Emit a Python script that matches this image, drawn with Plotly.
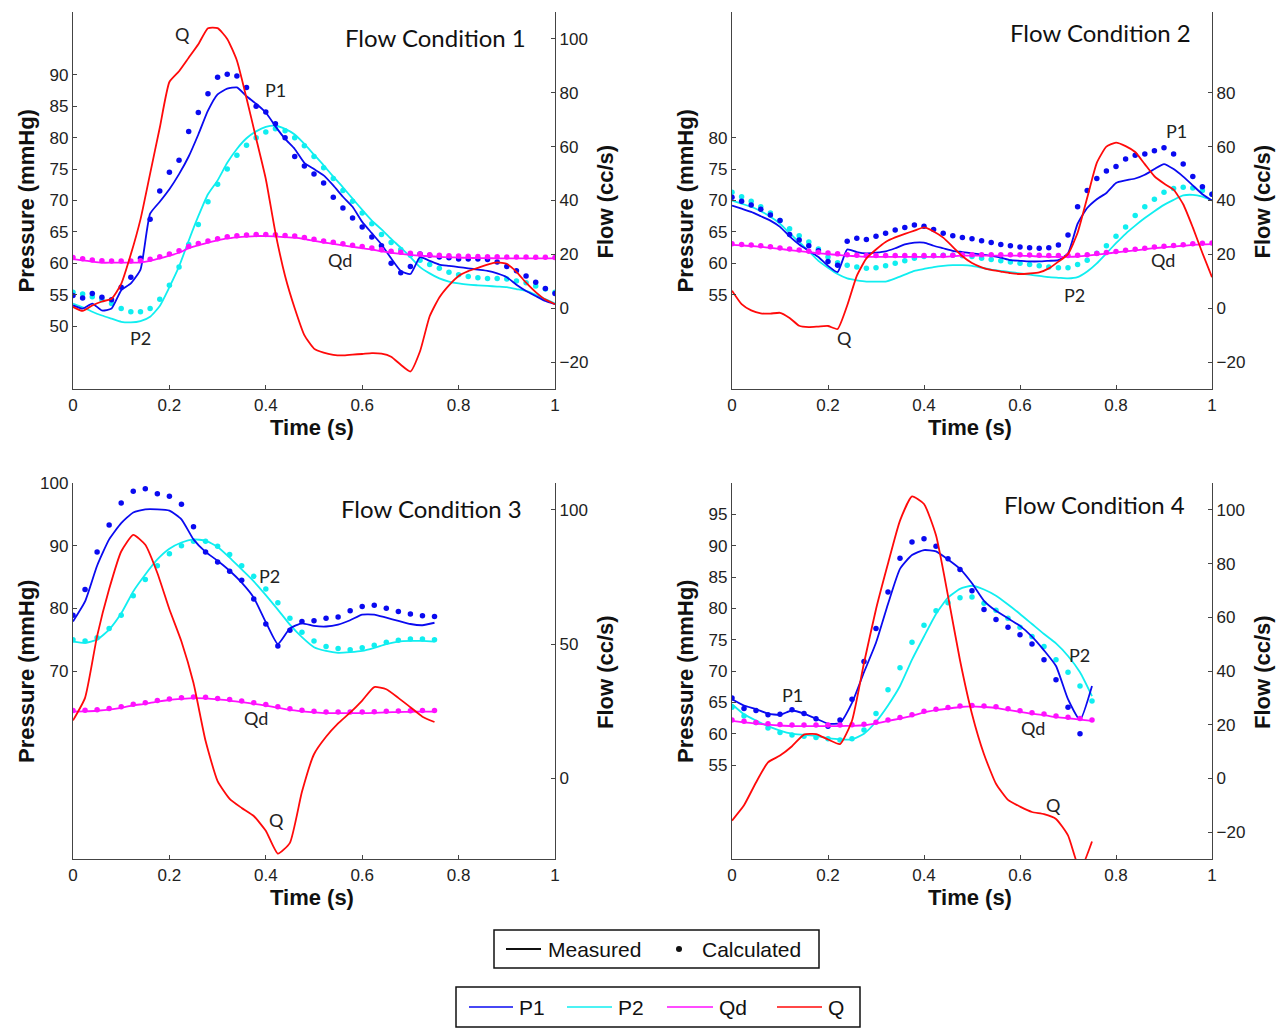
import numpy as np
import plotly.graph_objects as go

# ---------------- data ----------------
t_full = np.linspace(0, 1, 51)      # panels 1, 2 (s)
t_short = np.linspace(0, 0.75, 31)  # panels 3, 4 (s)

# Flow condition 1
p1_meas_1 = [53.3,52.8,53.6,52.5,52.8,55.7,56.8,59.0,67.9,69.8,71.8,74.2,77.0,80.5,84.3,86.9,87.8,88.0,86.6,85.4,84.0,81.8,79.8,78.2,76.0,75.0,74.0,72.4,70.6,69.0,66.6,64.8,63.0,60.8,58.8,58.3,61.0,60.4,59.8,59.6,59.4,59.2,59.0,58.8,58.4,57.8,56.6,55.6,54.8,54.0,53.5]
p1_calc_1 = [54.9,54.5,55.2,54.6,54.2,56.2,57.8,60.8,67.0,71.5,74.5,76.4,81.0,84.0,87.0,89.6,90.1,89.8,88.0,85.0,84.1,82.2,80.0,77.0,75.5,74.2,72.8,70.5,68.8,67.2,65.8,64.2,62.8,60.0,58.5,59.5,61.5,61.3,61.0,60.9,60.7,60.7,60.7,60.6,60.2,59.5,58.8,58.0,57.0,56.0,55.2]
p2_meas_1 = [53.6,53.0,52.3,51.7,51.2,50.7,50.6,50.8,51.5,53.2,56.2,59.5,63.6,67.5,71.0,73.2,76.0,78.2,79.9,81.0,81.7,81.9,81.4,80.5,79.0,77.3,75.6,73.8,72.1,70.3,68.5,66.8,65.4,63.9,62.5,61.0,59.4,58.4,57.6,57.1,56.8,56.6,56.5,56.4,56.3,56.2,55.9,55.6,55.0,54.3,53.6]
p2_calc_1 = [55.4,55.1,54.7,54.2,53.6,52.8,52.3,52.3,52.8,54.3,56.5,59.4,63.0,66.2,69.8,72.6,75.0,77.2,78.8,80.0,80.9,81.4,81.1,80.0,78.7,77.0,75.2,73.5,71.6,69.9,68.0,66.3,64.6,63.3,62.2,61.3,60.5,59.8,59.2,58.6,58.2,57.9,57.7,57.6,57.6,57.5,57.2,56.9,56.4,55.9,55.4]
qd_meas_1 = [18.2,17.8,17.3,16.9,16.9,16.9,16.9,17.0,17.6,18.5,19.5,20.6,22.3,23.4,24.4,25.2,25.9,26.3,26.6,26.8,26.8,26.7,26.4,26.2,25.7,25.0,24.4,23.9,23.3,22.8,22.3,21.8,21.1,20.6,20.2,19.8,19.5,19.3,19.1,18.9,18.8,18.7,18.6,18.6,18.5,18.5,18.5,18.5,18.5,18.5,18.5]
qd_calc_1 = [18.8,18.4,17.9,17.6,17.5,17.5,17.5,17.6,18.2,19.1,20.1,21.3,22.9,24.0,25.0,25.8,26.5,26.9,27.2,27.4,27.4,27.3,27.0,26.8,26.3,25.6,25.0,24.5,23.9,23.4,22.9,22.4,21.7,21.2,20.8,20.4,20.1,19.9,19.7,19.5,19.4,19.3,19.2,19.1,19.1,19.0,19.0,19.0,18.9,18.9,18.8]
q_meas_1 = [0.5,-1.0,1.0,2.5,3.5,9.0,20.0,33.0,50.0,67.0,84.0,88.0,93.0,98.0,104.0,104.0,100.0,92.0,78.0,63.0,48.0,28.0,12.0,0.0,-10.0,-15.0,-16.5,-17.3,-17.5,-17.2,-17.0,-16.7,-16.9,-18.0,-21.0,-23.5,-16.0,-3.0,4.0,8.5,12.0,13.8,15.0,16.2,17.0,16.5,13.5,9.5,6.0,3.2,1.5]

# Flow condition 2
p1_meas_2 = [69.2,68.7,68.2,67.5,66.8,65.8,64.3,63.0,62.0,61.0,59.6,58.6,62.2,61.8,61.6,61.7,61.9,62.4,63.0,63.3,63.3,62.8,62.4,62.0,61.8,61.6,61.4,61.2,60.9,60.5,60.4,60.3,60.3,60.4,60.5,61.6,66.3,68.8,70.2,71.2,72.8,73.2,73.5,74.1,75.0,75.8,75.0,73.8,72.4,71.0,70.0]
p1_calc_2 = [70.5,69.9,69.3,68.6,67.7,66.8,64.6,63.7,62.8,62.0,60.3,59.7,63.5,64.0,63.8,64.3,64.8,65.3,65.7,66.1,65.9,65.4,64.8,64.4,64.1,63.9,63.6,63.3,63.0,62.8,62.6,62.5,62.4,62.5,62.9,64.5,69.0,71.6,73.5,74.7,75.4,76.6,77.2,77.4,77.9,78.4,77.4,75.8,73.8,72.2,71.0]
p2_meas_2 = [70.0,69.5,69.0,68.3,67.4,66.3,64.8,63.4,61.9,60.4,59.3,58.3,57.6,57.3,57.1,57.1,57.1,57.6,58.2,58.8,59.1,59.4,59.6,59.7,59.7,59.6,59.3,59.0,58.8,58.6,58.4,58.2,58.0,57.8,57.7,57.6,57.8,58.7,60.0,61.6,63.2,64.7,66.0,67.2,68.3,69.3,70.1,70.8,70.9,70.6,70.0]
p2_calc_2 = [71.3,70.6,69.9,69.0,68.0,66.8,65.5,64.4,63.4,62.3,61.0,60.1,59.7,59.4,59.2,59.3,59.6,60.0,60.4,60.8,61.1,61.2,61.3,61.3,61.2,61.1,60.8,60.6,60.4,60.2,60.0,59.8,59.6,59.4,59.3,59.3,59.8,60.5,61.6,62.8,64.3,65.8,67.6,69.0,70.2,71.3,71.9,72.1,72.0,71.6,71.0]
qd_meas_2 = [23.5,23.3,23.1,22.8,22.4,22.0,21.6,21.2,20.8,20.4,20.1,19.8,19.5,19.3,19.1,19.1,19.1,19.1,19.1,19.1,19.1,19.1,19.1,19.3,19.5,19.5,19.5,19.5,19.5,19.5,19.5,19.4,19.2,19.1,19.1,19.1,19.2,19.5,19.9,20.3,20.7,21.1,21.5,21.9,22.3,22.6,22.9,23.2,23.5,23.7,23.8]
qd_calc_2 = [23.9,23.7,23.5,23.2,22.8,22.4,22.0,21.6,21.2,20.8,20.5,20.2,19.9,19.7,19.6,19.6,19.6,19.6,19.6,19.6,19.6,19.6,19.6,19.7,19.9,19.9,19.9,19.9,19.9,19.9,19.9,19.8,19.7,19.6,19.6,19.6,19.7,19.9,20.3,20.7,21.1,21.5,21.9,22.3,22.7,23.0,23.3,23.6,23.9,24.1,24.2]
q_meas_2 = [6.5,1.5,-0.8,-1.9,-2.0,-1.7,-3.6,-6.5,-7.0,-6.8,-6.6,-7.7,1.0,12.0,18.5,21.8,24.6,26.3,27.6,28.8,30.0,28.5,26.2,22.8,19.3,16.8,15.2,14.2,13.6,13.0,12.7,12.9,13.3,14.8,17.3,20.1,28.0,41.0,54.0,60.0,61.5,60.2,58.0,53.5,49.0,46.3,44.0,38.6,30.0,20.5,11.5]

# Flow condition 3
p1_meas_3 = [77.9,81.1,86.8,91.0,93.6,95.3,95.8,95.8,95.6,94.2,91.0,89.0,87.6,86.0,84.1,81.7,77.8,74.3,76.8,77.6,77.2,77.1,77.4,78.1,79.0,79.0,78.5,78.0,77.5,77.3,77.7]
p1_calc_3 = [78.9,83.0,89.0,93.3,96.8,98.7,99.1,98.3,97.9,96.6,93.0,89.0,87.4,85.9,84.5,81.5,77.5,74.0,76.5,77.9,78.0,78.4,78.6,79.6,80.3,80.5,80.0,79.5,79.1,78.8,78.7]
p2_meas_3 = [74.7,74.5,75.0,76.6,79.2,82.7,85.4,87.8,89.5,90.5,91.0,90.8,89.8,88.1,86.2,84.3,82.1,79.8,77.4,75.4,73.8,73.2,72.9,73.0,73.2,73.7,74.3,74.7,74.8,74.8,74.7]
p2_calc_3 = [75.0,74.8,75.3,76.8,78.9,82.0,84.6,86.8,88.7,90.0,90.7,90.7,89.9,88.6,86.8,85.1,83.1,80.9,78.4,76.2,74.8,73.9,73.6,73.4,73.7,74.1,74.6,74.9,75.1,75.1,75.0]
qd_meas_3 = [24.9,25.0,25.2,25.6,26.3,27.2,27.8,28.6,29.2,29.6,29.9,29.8,29.4,29.0,28.4,27.8,27.1,26.3,25.5,25.0,24.6,24.3,24.3,24.3,24.3,24.4,24.6,24.7,24.8,24.9,24.9]
qd_calc_3 = [25.3,25.4,25.6,26.0,26.7,27.6,28.2,29.0,29.6,30.0,30.3,30.2,29.8,29.4,28.8,28.2,27.5,26.7,25.9,25.4,25.0,24.7,24.7,24.7,24.7,24.8,25.0,25.1,25.2,25.3,25.3]
q_meas_3 = [21.6,30.0,53.0,70.5,84.5,90.7,87.0,76.5,63.0,51.0,35.5,14.0,-1.0,-7.6,-11.0,-14.0,-19.5,-28.0,-24.0,-5.0,9.0,15.5,20.5,24.5,29.0,34.0,33.2,30.0,26.5,23.0,21.0]

# Flow condition 4
p1_meas_4 = [65.5,64.5,63.9,63.2,63.0,63.7,63.2,62.4,61.6,61.7,64.9,69.8,74.5,80.7,86.3,88.5,89.3,89.1,87.8,86.3,84.0,81.2,79.6,78.4,77.2,75.5,73.3,70.8,65.5,62.2,67.6]
p1_calc_4 = [65.7,64.0,63.7,63.0,63.1,63.8,63.2,62.4,61.2,62.2,65.5,71.5,76.8,82.6,88.0,90.6,91.1,89.9,87.9,86.2,82.8,79.8,78.2,77.0,75.8,74.3,71.8,68.6,64.2,60.0,None]
p2_meas_4 = [64.7,63.1,62.1,61.2,60.5,60.0,59.8,59.6,59.3,59.1,59.1,60.0,61.9,64.5,67.6,71.8,75.5,79.1,81.7,83.1,83.6,83.0,82.0,80.6,79.1,77.5,75.9,74.4,72.4,69.8,66.0]
p2_calc_4 = [64.2,62.8,61.8,60.9,60.2,59.8,59.6,59.4,59.2,59.0,59.2,60.6,63.2,67.0,70.5,74.6,77.3,79.6,80.9,81.7,81.8,80.8,79.7,78.4,77.0,75.5,73.9,71.8,69.8,67.6,65.2]
qd_meas_4 = [21.4,20.9,20.4,20.0,19.7,19.5,19.5,19.5,19.5,19.5,19.6,19.8,20.5,21.4,22.3,23.3,24.6,25.4,26.0,26.6,26.8,26.6,26.3,25.5,24.8,24.1,23.6,22.8,22.4,21.9,21.4]
qd_calc_4 = [21.8,21.3,20.8,20.4,20.1,19.9,19.9,19.9,19.9,19.9,20.0,20.2,20.9,21.8,22.7,23.7,25.0,25.8,26.4,27.0,27.2,27.0,26.7,25.9,25.2,24.5,24.0,23.2,22.8,22.3,21.8]
q_meas_4 = [-15.7,-10.0,-1.5,6.0,8.5,12.0,16.3,16.5,14.5,12.8,21.5,43.0,63.0,80.0,96.0,105.0,102.2,90.5,68.0,44.0,24.0,9.0,-2.0,-8.0,-10.5,-12.5,-13.3,-15.1,-21.2,-34.0,-23.5]

titles = ["Flow Condition 1", "Flow Condition 2", "Flow Condition 3", "Flow Condition 4"]
x_ticks = [0, 0.2, 0.4, 0.6, 0.8, 1]
x_ticktext = ["0", "0.2", "0.4", "0.6", "0.8", "1"]
p_ticks = [[50,55,60,65,70,75,80,85,90], [55,60,65,70,75,80], [70,80,90,100], [55,60,65,70,75,80,85,90,95]]
q_ticks = [[-20,0,20,40,60,80,100], [-20,0,20,40,60,80], [0,50,100], [-20,0,20,40,60,80,100]]

# curve labels: (text, time, pressure)
curve_labels = [
    [("Q", 0.228, 96.5), ("P1", 0.42, 87.6), ("P2", 0.139, 48.1), ("Qd", 0.554, 60.5)],
    [("P1", 0.927, 81.0), ("Qd", 0.898, 60.5), ("P2", 0.7125, 54.9), ("Q", 0.235, 48.1)],
    [("P1", 0.139, 101.1), ("P2", 0.407, 85.1), ("Qd", 0.38, 62.5), ("Q", 0.423, 46.2)],
    [("P1", 0.127, 66.1), ("P2", 0.723, 72.6), ("Qd", 0.627, 60.9), ("Q", 0.669, 48.6)],
]
title_pos = [(0.753, 96.0), (0.767, 96.8), (0.743, 95.9), (0.756, 96.6)]

panels = [
    dict(t=t_full, p1m=p1_meas_1, p1c=p1_calc_1, p2m=p2_meas_1, p2c=p2_calc_1, qdm=qd_meas_1, qdc=qd_calc_1, q=q_meas_1),
    dict(t=t_full, p1m=p1_meas_2, p1c=p1_calc_2, p2m=p2_meas_2, p2c=p2_calc_2, qdm=qd_meas_2, qdc=qd_calc_2, q=q_meas_2),
    dict(t=t_short, p1m=p1_meas_3, p1c=p1_calc_3, p2m=p2_meas_3, p2c=p2_calc_3, qdm=qd_meas_3, qdc=qd_calc_3, q=q_meas_3),
    dict(t=t_short, p1m=p1_meas_4, p1c=p1_calc_4, p2m=p2_meas_4, p2c=p2_calc_4, qdm=qd_meas_4, qdc=qd_calc_4, q=q_meas_4),
]
for p in panels:
    for k in ("p1m", "p1c", "p2m", "p2c", "qdm", "qdc", "q"):
        assert len(p[k]) == len(p["t"]), (k, len(p[k]))

# ---------------- styling ----------------
W, H = 1286, 1028
PAD = 8  # page body margin of the html page
def fx(px):
    return (px - PAD) / W
def fy(py):
    return 1 - (py - PAD) / H

BLUE = "#0A0AF0"
CYAN = "#10EEF0"
MAG = "#FF10FF"
RED = "#FF0A0A"
AX = "#444444"
TXT = "#222222"
TICKFONT = dict(family="Arial, Liberation Sans, sans-serif", size=17, color=TXT)
TITLEFONT = dict(family="Arial, Liberation Sans, sans-serif", size=22, color="#111111", weight="bold")
LABFONT = dict(family="Lato, Open Sans, sans-serif", size=18, color=TXT)
CONDFONT = dict(family="Lato, Open Sans, sans-serif", size=24, color="#111111")

x_px = [(73, 555), (732, 1212), (73, 555), (732, 1212)]
y_px = [(12, 389), (12, 389), (483, 859), (483, 859)]

fig = go.Figure()
layout = dict(
    width=W, height=H, margin=dict(l=0, r=0, t=0, b=0, autoexpand=False),
    paper_bgcolor="white", plot_bgcolor="rgba(0,0,0,0)", showlegend=False,
)
annotations = []
shapes = []

def ann(text, x, y, font, xref="paper", yref="paper", **kw):
    d = dict(text=text, x=x, y=y, xref=xref, yref=yref, showarrow=False, font=font,
             xanchor="center", yanchor="middle")
    d.update(kw)
    annotations.append(d)

def line_style(col):
    return dict(color=col, width=1.8, shape="spline", smoothing=0.5)

for i, p in enumerate(panels):
    k = i + 1
    xa = "x" if k == 1 else f"x{k}"
    L = 2 * k - 1
    R = 2 * k
    ya = "y" if L == 1 else f"y{L}"
    yb = f"y{R}"
    axis_common = dict(showline=True, linecolor=AX, linewidth=1.3, ticks="inside", ticklen=4,
                       tickcolor=AX, tickwidth=1.2, tickfont=TICKFONT, showgrid=False, zeroline=False,
                       automargin=False)
    layout["xaxis" if k == 1 else f"xaxis{k}"] = dict(
        axis_common, domain=[fx(x_px[i][0]), fx(x_px[i][1])], anchor=ya,
        range=[0, 1], tickvals=x_ticks, ticktext=x_ticktext)
    layout["yaxis" if L == 1 else f"yaxis{L}"] = dict(
        axis_common, domain=[fy(y_px[i][1]), fy(y_px[i][0])], anchor=xa,
        range=[40, 100], tickvals=p_ticks[i])
    layout[f"yaxis{R}"] = dict(
        axis_common, overlaying=ya, side="right", anchor=xa,
        range=[-30, 110], tickvals=q_ticks[i])

    t = p["t"]
    fig.add_trace(go.Scatter(x=t, y=p["p2m"], mode="lines", line=line_style(CYAN), xaxis=xa, yaxis=ya))
    fig.add_trace(go.Scatter(x=t, y=p["p2c"], mode="markers", marker=dict(color=CYAN, size=5.5), xaxis=xa, yaxis=ya))
    fig.add_trace(go.Scatter(x=t, y=p["p1m"], mode="lines", line=line_style(BLUE), xaxis=xa, yaxis=ya))
    fig.add_trace(go.Scatter(x=t, y=p["p1c"], mode="markers", marker=dict(color=BLUE, size=5.5), xaxis=xa, yaxis=ya))
    fig.add_trace(go.Scatter(x=t, y=p["qdm"], mode="lines", line=line_style(MAG), xaxis=xa, yaxis=yb))
    fig.add_trace(go.Scatter(x=t, y=p["qdc"], mode="markers", marker=dict(color=MAG, size=5.5), xaxis=xa, yaxis=yb))
    fig.add_trace(go.Scatter(x=t, y=p["q"], mode="lines", line=line_style(RED), xaxis=xa, yaxis=yb))

    for txt, tx, ty in curve_labels[i]:
        ann(txt, tx, ty, LABFONT, xref=xa, yref=ya)
    ann(titles[i], title_pos[i][0], title_pos[i][1], CONDFONT, xref=xa, yref=ya)

    # axis titles
    x0, x1 = x_px[i]
    y0, y1 = y_px[i]
    ymid = (y0 + y1) / 2 + 1
    ann("Pressure (mmHg)", fx(x0 - 47), fy(ymid), TITLEFONT, textangle=-90)
    ann("Flow (cc/s)", fx(x1 + 50), fy(ymid), TITLEFONT, textangle=-90)
    ann("Time (s)", fx((x0 + x1) / 2 - 2), fy(y1 + 38), TITLEFONT)

# ---------------- legends (drawn boxes) ----------------
LEGFONT = dict(family="Arial, Liberation Sans, sans-serif", size=21, color="#111111")
shapes.append(dict(type="rect", xref="paper", yref="paper", x0=fx(494), x1=fx(819), y0=fy(968), y1=fy(930),
                   line=dict(color="#111111", width=1.5)))
shapes.append(dict(type="line", xref="paper", yref="paper", x0=fx(506), x1=fx(541), y0=fy(949), y1=fy(949),
                   line=dict(color="#111111", width=2)))
ann("Measured", fx(546), fy(949), LEGFONT, xanchor="left")
shapes.append(dict(type="circle", xref="paper", yref="paper", x0=fx(676), x1=fx(682), y0=fy(952), y1=fy(946),
                   fillcolor="#111111", line=dict(color="#111111", width=0)))
ann("Calculated", fx(700), fy(949), LEGFONT, xanchor="left")

shapes.append(dict(type="rect", xref="paper", yref="paper", x0=fx(456), x1=fx(860), y0=fy(1027), y1=fy(987),
                   line=dict(color="#111111", width=1.5)))
leg_items = [("P1", BLUE, 469, 513), ("P2", CYAN, 567, 612), ("Qd", MAG, 667, 713), ("Q", RED, 777, 822)]
for name, col, a, b in leg_items:
    shapes.append(dict(type="line", xref="paper", yref="paper", x0=fx(a), x1=fx(b), y0=fy(1007), y1=fy(1007),
                       line=dict(color=col, width=1.6)))
    ann(name, fx(b + 4), fy(1007), LEGFONT, xanchor="left")

layout["annotations"] = annotations
layout["shapes"] = shapes
fig.update_layout(**layout)
fig.write_html("out.html")
